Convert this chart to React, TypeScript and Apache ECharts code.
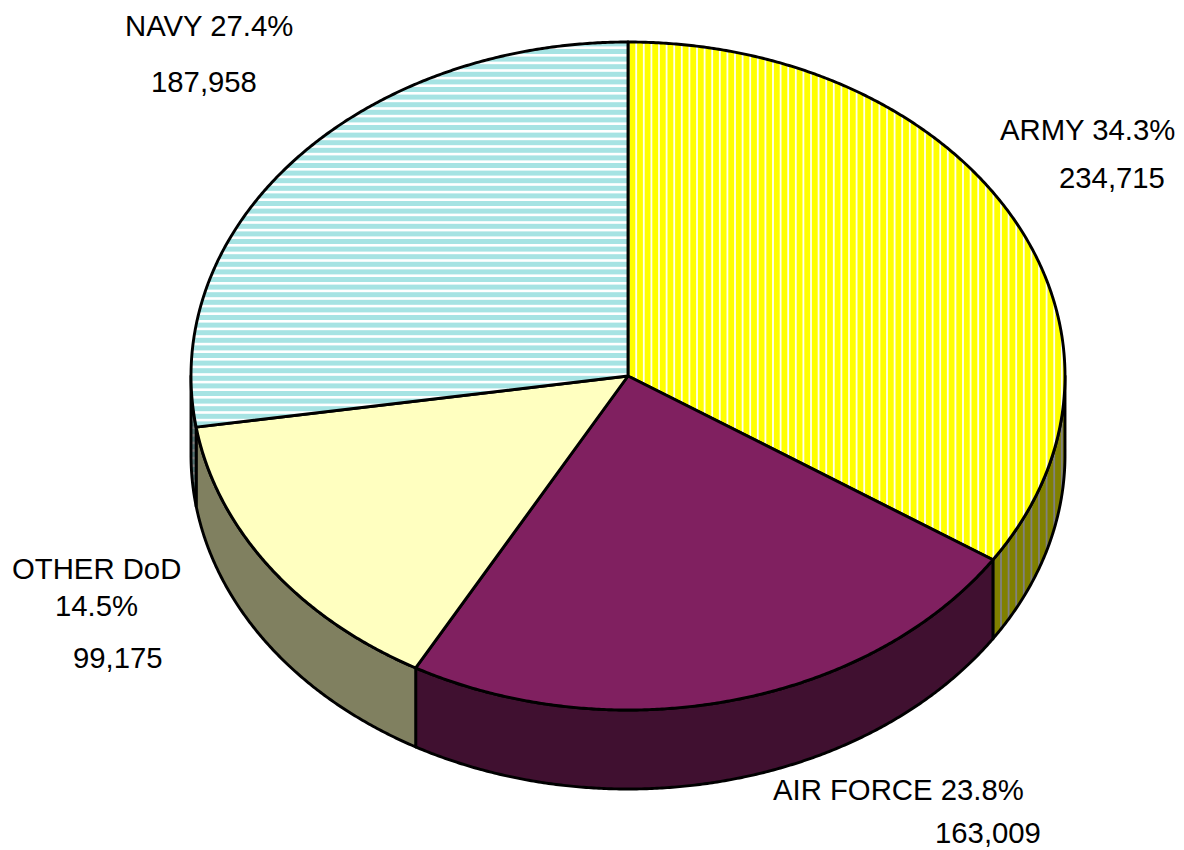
import React, { useEffect, useRef } from "react";
import * as echarts from "echarts";

const categories = ["ARMY", "AIR FORCE", "OTHER DoD", "NAVY"];
const amounts = [234715, 163009, 99175, 187958];
const percents = ["34.3%", "23.8%", "14.5%", "27.4%"];
const topFills = ["#ffff00", "#802060", "#ffffc0", "#a6e3e3"];
const wallFills = ["#808000", "#401030", "#808060", "#537171"];

const CX = 628, CY = 376, RX = 437, RY = 334, DEPTH = 79;
const total = amounts.reduce((a, b) => a + b, 0);
const fmt = (n: number) => n.toLocaleString("en-US");

function stripes(dir: "v" | "h", bg: string, fg: string, offset: number, w: number) {
  const size = 38, period = 7.6;
  const c = document.createElement("canvas");
  c.width = dir === "v" ? size : 4;
  c.height = dir === "v" ? 4 : size;
  const g = c.getContext("2d")!;
  g.fillStyle = bg;
  g.fillRect(0, 0, c.width, c.height);
  g.fillStyle = fg;
  for (let i = 0; i < 5; i++) {
    const p = offset + i * period;
    if (dir === "v") g.fillRect(p, 0, w, 4);
    else g.fillRect(0, p, 4, w);
  }
  return { image: c, repeat: "repeat" as const, imageWidth: c.width, imageHeight: c.height };
}

const pt = (deg: number, dy = 0): number[] => {
  const r = (deg * Math.PI) / 180;
  return [CX + RX * Math.sin(r), CY - RY * Math.cos(r) + dy];
};
const arc = (a: number, b: number, dy = 0) => {
  const out: number[][] = [];
  const n = Math.max(2, Math.ceil(Math.abs(b - a) * 3));
  for (let i = 0; i <= n; i++) out.push(pt(a + ((b - a) * i) / n, dy));
  return out;
};
const startOf = (idx: number) =>
  (amounts.slice(0, idx).reduce((a, b) => a + b, 0) / total) * 360;
const endOf = (idx: number) =>
  (amounts.slice(0, idx + 1).reduce((a, b) => a + b, 0) / total) * 360;

const labelRows: { text: string; x: number; y: number }[] = [
  { text: `${categories[3]} ${percents[3]}`, x: 125, y: 25 },
  { text: fmt(amounts[3]), x: 151, y: 81 },
  { text: `${categories[0]} ${percents[0]}`, x: 1000, y: 129 },
  { text: fmt(amounts[0]), x: 1059, y: 177 },
  { text: categories[2], x: 12, y: 568 },
  { text: percents[2], x: 55, y: 605 },
  { text: fmt(amounts[2]), x: 73, y: 657 },
  { text: `${categories[1]} ${percents[1]}`, x: 773, y: 789 },
  { text: fmt(amounts[1]), x: 935, y: 832 },
];

export default function App() {
  const ref = useRef<HTMLDivElement>(null);
  useEffect(() => {
    const chart = echarts.init(ref.current!, undefined, { renderer: "svg" });
    const topPaint: any[] = [...topFills];
    topPaint[0] = stripes("v", topFills[0], "#fffff0", 4.5, 1.8);
    topPaint[3] = stripes("h", topFills[3], "#ffffff", 0.8, 2.6);
    const wallPaint: any[] = [...wallFills];
    wallPaint[0] = stripes("v", wallFills[0], "#808080", 4.5, 1.8);
    wallPaint[3] = stripes("h", wallFills[3], "#808080", 0.8, 2.6);
    const line = { stroke: "#000", lineWidth: 2.9, lineJoin: "round" };
    chart.setOption({
      animation: false,
      backgroundColor: "#fff",
      graphic: labelRows.map((r) => ({
        type: "text",
        x: r.x,
        y: r.y,
        z: 10,
        style: {
          text: r.text,
          fill: "#000",
          font: '29.3px "Liberation Sans", Arial, sans-serif',
          verticalAlign: "middle",
          textAlign: "left",
        },
      })),
      series: [
        {
          type: "custom",
          coordinateSystem: "none",
          data: amounts,
          z: 1,
          renderItem: (p: any) => {
            const a = Math.max(startOf(p.dataIndex), 90);
            const b = Math.min(endOf(p.dataIndex), 270);
            if (b <= a) return { type: "group", children: [] };
            return {
              type: "polygon",
              shape: { points: [...arc(a, b), ...arc(b, a, DEPTH)] },
              style: { fill: wallPaint[p.dataIndex], ...line },
            };
          },
        },
        {
          type: "custom",
          coordinateSystem: "none",
          data: amounts,
          z: 2,
          renderItem: (p: any) => ({
            type: "polygon",
            shape: {
              points: [[CX, CY], ...arc(startOf(p.dataIndex), endOf(p.dataIndex))],
            },
            style: { fill: topPaint[p.dataIndex], ...line },
          }),
        },
      ],
    });
    return () => chart.dispose();
  }, []);
  return (
    <div
      ref={ref}
      style={{
        position: "absolute",
        left: 0,
        top: 0,
        width: 1184,
        height: 850,
        fontKerning: "none",
      }}
    />
  );
}
